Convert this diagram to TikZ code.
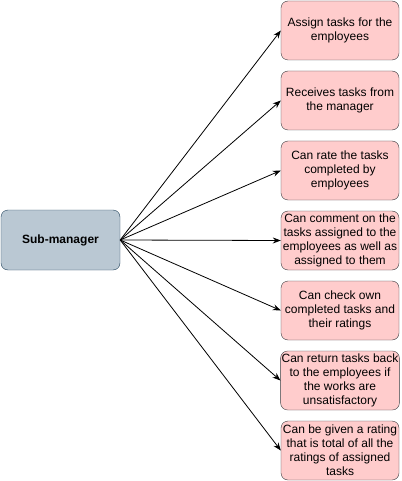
\documentclass[tikz,border=0pt]{standalone}
\usepackage{fontspec}
\setmainfont{Liberation Sans}
\usetikzlibrary{arrows.meta}
\begin{document}
\begin{tikzpicture}[
            x={(1pt,0pt)},
            y={(0pt,-1pt)},
            font=\fontsize{12}{14}\selectfont,
            role/.style={draw={rgb,255:red,35;green,68;blue,93}, fill={rgb,255:red,186;green,200;blue,211}, rounded corners=7pt,
                minimum width=119pt, minimum height=60pt, font=\fontsize{12}{14}\selectfont\bfseries},
            task/.style={draw={rgb,255:red,54;green,57;blue,61}, fill={rgb,255:red,255;green,204;blue,204}, rounded corners=7pt,
                minimum width=118pt, minimum height=59pt, inner sep=1pt, align=center},
            link/.style={-{Stealth[length=8pt,width=6pt]}, line width=0.8pt}
        ]
        \useasboundingbox (0,0) rectangle (401,481);
        \node[role] (sub) at (60.5,240) {Sub-manager};

        \node[task] (assign) at (340,30.5) {Assign tasks for the\\employees};
        \node[task] (receive) at (340,100.5) {Receives tasks from\\the manager};
        \node[task] (rate) at (340,170.5) {Can rate the tasks\\completed by\\employees};
        \node[task] (comment) at (340,240.5) {Can comment on the\\tasks assigned to the\\employees as well as\\assigned to them};
        \node[task] (check) at (340,310.5) {Can check own\\completed tasks and\\their ratings};
        \node[task] (return) at (340,380.5) {Can return tasks back\\to the employees if\\the works are\\unsatisfactory};
        \node[task] (given) at (340,450.5) {Can be given a rating\\that is total of all the\\ratings of assigned\\tasks};

        \draw[link] (sub.east) -- (assign.west);
        \draw[link] (sub.east) -- (receive.west);
        \draw[link] (sub.east) -- (rate.west);
        \draw[link] (sub.east) -- (comment.west);
        \draw[link] (sub.east) -- (check.west);
        \draw[link] (sub.east) -- (return.west);
        \draw[link] (sub.east) -- (given.west);
    \end{tikzpicture}
\end{document}
